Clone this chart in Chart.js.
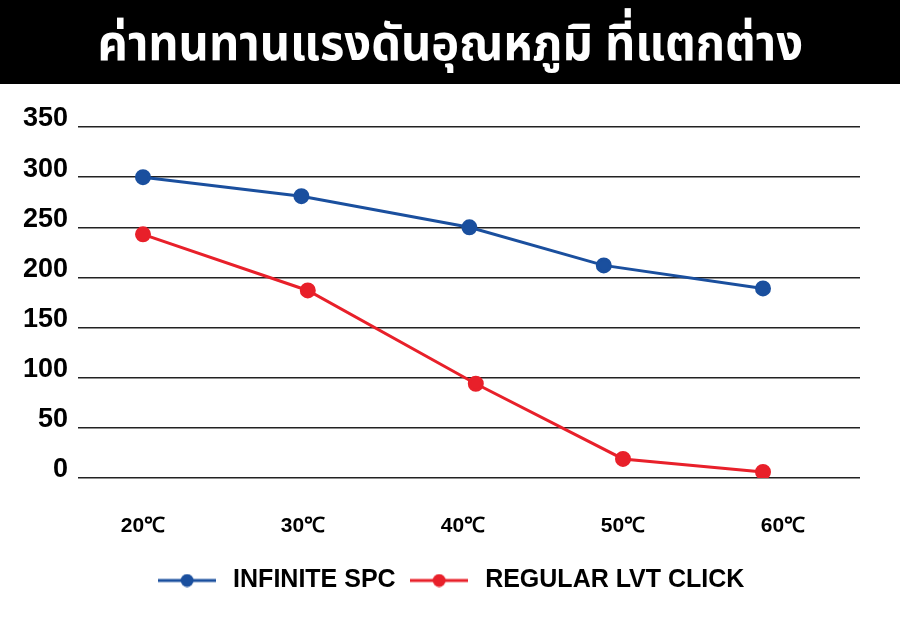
<!DOCTYPE html>
<html><head><meta charset="utf-8">
<script src="https://cdn.jsdelivr.net/npm/chart.js@4.4.1/dist/chart.umd.min.js"></script>
<style>
html,body{margin:0;padding:0;background:#fff;width:900px;height:618px;overflow:hidden}
#hdr{position:absolute;left:0;top:0;width:900px;height:84px;background:#000;color:#fff;text-align:center;overflow:hidden}
#t{display:inline-block;font-family:"Noto Sans Thai","Noto Sans",sans-serif;font-weight:bold;font-size:50px;line-height:84px;margin-top:3px;transform:scaleX(0.94);white-space:nowrap}
#wrap{position:absolute;left:0;top:84px;width:900px;height:534px}
</style></head><body>
<div id="hdr"><span id="t"></span></div>
<div id="wrap"><canvas id="c"></canvas></div>
<script>
const chartTitle = "ค่าทนทานแรงดันอุณหภูมิ ที่แตกต่าง";
const xTickValues = [20, 30, 40, 50, 60];
const xTickLabels = ["20℃", "30℃", "40℃", "50℃", "60℃"];
const yTickValues = [0, 50, 100, 150, 200, 250, 300, 350];
const seriesNames = ["INFINITE SPC", "REGULAR LVT CLICK"];
const infiniteX = [20, 29.9, 40.4, 48.8, 58.75];
const infiniteY = [300, 281, 250, 212, 189];
const regularX = [20, 30.3, 40.8, 50, 58.75];
const regularY = [243, 187, 94, 19, 6];

document.getElementById('t').textContent = chartTitle;

const BLUE = '#1a4f9e', RED = '#e8202a';
function legendIcon(color) {
  const c = document.createElement('canvas');
  c.width = 58; c.height = 14;
  const g = c.getContext('2d');
  g.strokeStyle = color; g.lineWidth = 3;
  g.beginPath(); g.moveTo(0, 7); g.lineTo(58, 7); g.stroke();
  g.fillStyle = color; g.beginPath(); g.arc(29, 7, 6.5, 0, Math.PI * 2); g.fill();
  return c;
}
const icons = [legendIcon(BLUE), legendIcon(RED)];
const sans = '"Liberation Sans",Arial,sans-serif';

const legendShift = {
  id: 'legendShift',
  afterLayout(chart) { const l = chart.legend; if (l) { l.left += 19; l.right += 19; } }
};

new Chart(document.getElementById('c'), {
  type: 'line',
  plugins: [legendShift],
  data: {
    datasets: [
      { label: seriesNames[0], data: infiniteX.map((x, i) => ({x, y: infiniteY[i]})),
        borderColor: BLUE, backgroundColor: BLUE, borderWidth: 3, pointRadius: 6.5, pointHoverRadius: 6.5, tension: 0 },
      { label: seriesNames[1], data: regularX.map((x, i) => ({x, y: regularY[i]})),
        borderColor: RED, backgroundColor: RED, borderWidth: 3, pointRadius: 6.5, pointHoverRadius: 6.5, tension: 0 }
    ]
  },
  options: {
    responsive: true, maintainAspectRatio: false, animation: false,
    layout: { padding: { top: 43, right: 40, left: 0, bottom: 15 } },
    scales: {
      x: {
        type: 'linear', min: 15.9375, max: 64.8125,
        afterBuildTicks: a => { a.ticks = xTickValues.map(v => ({value: v})); },
        afterFit: s => { s.height = 80; },
        grid: { display: false, drawTicks: false }, border: { display: false },
        ticks: { padding: 36, color: '#000', font: { family: sans, weight: 'bold', size: 21 },
          callback: v => xTickLabels[xTickValues.indexOf(v)] }
      },
      y: {
        min: 0, max: 350,
        afterBuildTicks: a => { a.ticks = yTickValues.map(v => ({value: v})); },
        afterFit: s => { s.width = 78; },
        grid: { color: '#222', lineWidth: 1.5, drawTicks: false }, border: { display: false },
        ticks: { padding: 10, labelOffset: -8, color: '#000', font: { family: sans, weight: 'bold', size: 27 } }
      }
    },
    plugins: {
      tooltip: { enabled: false },
      legend: {
        position: 'bottom',
        labels: {
          usePointStyle: true, pointStyleWidth: 67, boxHeight: 14, padding: 10,
          color: '#000', font: { family: sans, weight: 'bold', size: 25 },
          generateLabels: ch => ch.data.datasets.map((d, i) => ({
            text: d.label, pointStyle: icons[i], fillStyle: d.borderColor, strokeStyle: d.borderColor,
            lineWidth: 0, datasetIndex: i, hidden: false, fontColor: '#000'
          }))
        }
      }
    }
  }
});
</script>
</body></html>
